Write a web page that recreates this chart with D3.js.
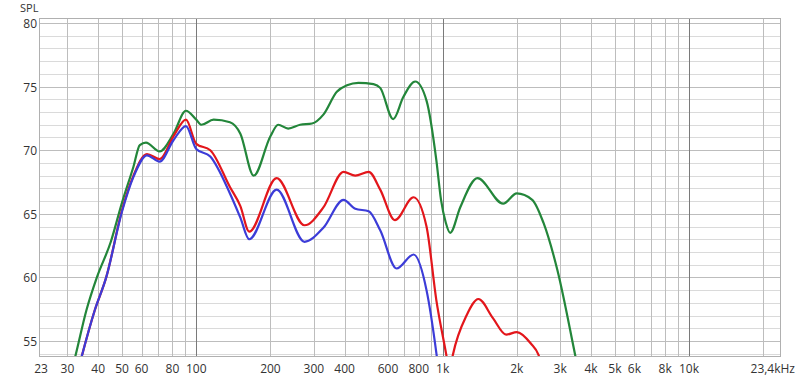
<!DOCTYPE html>
<html>
<head>
<meta charset="utf-8">
<script src="https://cdn.jsdelivr.net/npm/d3@7"></script>
<style>
  body { margin: 0; background: #fff; }
  text { font-family: "Open Sans", "DejaVu Sans", sans-serif; font-size: 12px; fill: #333; }
</style>
</head>
<body>
<script>
// frequency ticks (Hz) and their labels
var xTickVals = [23, 30, 40, 50, 60, 80, 100, 200, 300, 400, 600, 800, 1000, 2000, 3000, 4000, 5000, 6000, 8000, 10000];
var xTickText = ["23", "30", "40", "50", "60", "80", "100", "200", "300", "400", "600", "800", "1k", "2k", "3k", "4k", "5k", "6k", "8k", "10k"];
var yTickVals = [55, 60, 65, 70, 75, 80];

// green series
var greenFreq = [30, 32.3, 35.8, 39.5, 45, 50, 55.6, 59, 62.5, 71, 80.9, 90.8, 100, 105, 117.6, 137, 151, 171, 200, 215, 236, 264, 295, 328, 372, 409, 455, 524, 558, 630, 693, 774, 860, 943, 985, 1030, 1073, 1178, 1385, 1760, 2000, 2310, 2565, 2920, 3450, 3700];
var greenSpl  = [51.5, 53.8, 57.4, 60, 62.8, 65.9, 68.7, 70.4, 70.6, 69.9, 71.3, 73.1, 72.4, 72.0, 72.4, 72.2, 71.3, 68.0, 71.1, 72.0, 71.7, 72.0, 72.1, 72.8, 74.6, 75.1, 75.3, 75.2, 74.9, 72.45, 74.2, 75.4, 73.9, 69.2, 66.1, 64.3, 63.5, 65.5, 67.8, 65.8, 66.6, 66.1, 64.3, 60.6, 53.9, 51];

// red series
var redFreq = [32, 34.3, 38.7, 43.1, 50, 55.6, 63.1, 71, 80.9, 90.8, 100, 114, 137, 151, 164, 212, 275, 328, 396, 442, 501, 558, 640, 762, 860, 943, 1035, 1065, 1100, 1250, 1397, 1600, 1810, 2000, 2280, 2450, 2600];
var redSpl  = [51.5, 53.8, 57.4, 60, 65.3, 68.0, 69.7, 69.3, 71.1, 72.4, 70.5, 70.0, 67.1, 65.6, 63.6, 67.8, 64.1, 65.5, 68.3, 68.0, 68.3, 66.9, 64.5, 66.3, 64.0, 58.2, 53.9, 52.5, 53.9, 57.0, 58.3, 56.8, 55.5, 55.7, 54.8, 53.9, 52];

// blue series
var blueFreq = [32, 34.3, 38.7, 43.1, 50, 55.6, 63.1, 71, 80.9, 90.8, 100, 114, 137, 151, 164, 212, 275, 328, 396, 442, 501, 558, 650, 762, 860, 943, 1000];
var blueSpl  = [51.5, 53.8, 57.4, 60, 65.2, 67.9, 69.6, 69.1, 70.8, 71.9, 70.1, 69.5, 66.6, 64.7, 63.0, 66.9, 62.8, 63.9, 66.1, 65.4, 65.2, 63.7, 60.7, 61.8, 59.0, 54.05, 50];

var W = 800, H = 381;
var pL = 39, pR = 780, pT = 18, pB = 356;   // plot box ("top" is taken by window)

var svg = d3.select("body").append("svg").attr("width", W).attr("height", H);

var x = d3.scaleLog().domain([23, 23400]).range([pL, pR]);
var y = d3.scaleLinear().domain([80, 55]).range([23, 341]);

// horizontal grid, 1 dB steps
var hLines = d3.range(54, 81);
svg.selectAll("line.h").data(hLines).enter().append("line")
  .attr("x1", pL).attr("x2", pR)
  .attr("y1", function(d){ return Math.round(y(d)) + 0.5; })
  .attr("y2", function(d){ return Math.round(y(d)) + 0.5; })
  .attr("stroke", function(d){ return d % 5 == 0 ? "#bdbdbd" : "#dadada"; });

// vertical grid
var vLines = [];
[10, 100, 1000, 10000].forEach(function(dec){
  for (var k = 1; k < 10; k++) { var f = dec * k; if (f > 23 && f < 23400) vLines.push(f); }
});
svg.selectAll("line.v").data(vLines).enter().append("line")
  .attr("x1", function(d){ return Math.round(x(d)) + 0.5; })
  .attr("x2", function(d){ return Math.round(x(d)) + 0.5; })
  .attr("y1", pT).attr("y2", pB)
  .attr("stroke", function(d){ return (d == 100 || d == 1000 || d == 10000) ? "#7a7a7a" : "#bdbdbd"; });

// frame
svg.append("rect").attr("x", pL + 0.5).attr("y", pT + 0.5)
  .attr("width", pR - pL).attr("height", pB - pT)
  .attr("fill", "none").attr("stroke", "#b0b0b0");

// curves, clipped to the plot box
svg.append("clipPath").attr("id", "plot").append("rect")
  .attr("x", pL).attr("y", pT).attr("width", pR - pL).attr("height", pB - pT);

var line = d3.line()
  .x(function(d){ return x(d[0]); })
  .y(function(d){ return y(d[1]); })
  .curve(d3.curveMonotoneX);

var series = [
  { f: greenFreq, v: greenSpl, c: "#23863a" },
  { f: redFreq, v: redSpl, c: "#e3161b" },
  { f: blueFreq, v: blueSpl, c: "#3c3cd8" }
];
var g = svg.append("g").attr("clip-path", "url(#plot)");
series.forEach(function(s){
  g.append("path")
    .datum(d3.zip(s.f, s.v))
    .attr("d", line)
    .attr("fill", "none")
    .attr("stroke", s.c)
    .attr("stroke-width", 2.2)
    .attr("stroke-linejoin", "round");
});

// axis labels
svg.selectAll("text.xt").data(xTickVals).enter().append("text")
  .attr("x", function(d, i){ return i == 0 ? x(d) + 2 : x(d); })
  .attr("y", 373)
  .attr("text-anchor", "middle")
  .text(function(d, i){ return xTickText[i]; });
svg.append("text").attr("x", 795).attr("y", 373).attr("text-anchor", "end").text("23,4kHz");

svg.selectAll("text.yt").data(yTickVals).enter().append("text")
  .attr("x", 37).attr("y", function(d){ return y(d) + 5; })
  .attr("text-anchor", "end")
  .text(function(d){ return d; });
svg.append("text").attr("x", 20).attr("y", 12).style("font-size", "11px").text("SPL");
</script>
</body>
</html>
